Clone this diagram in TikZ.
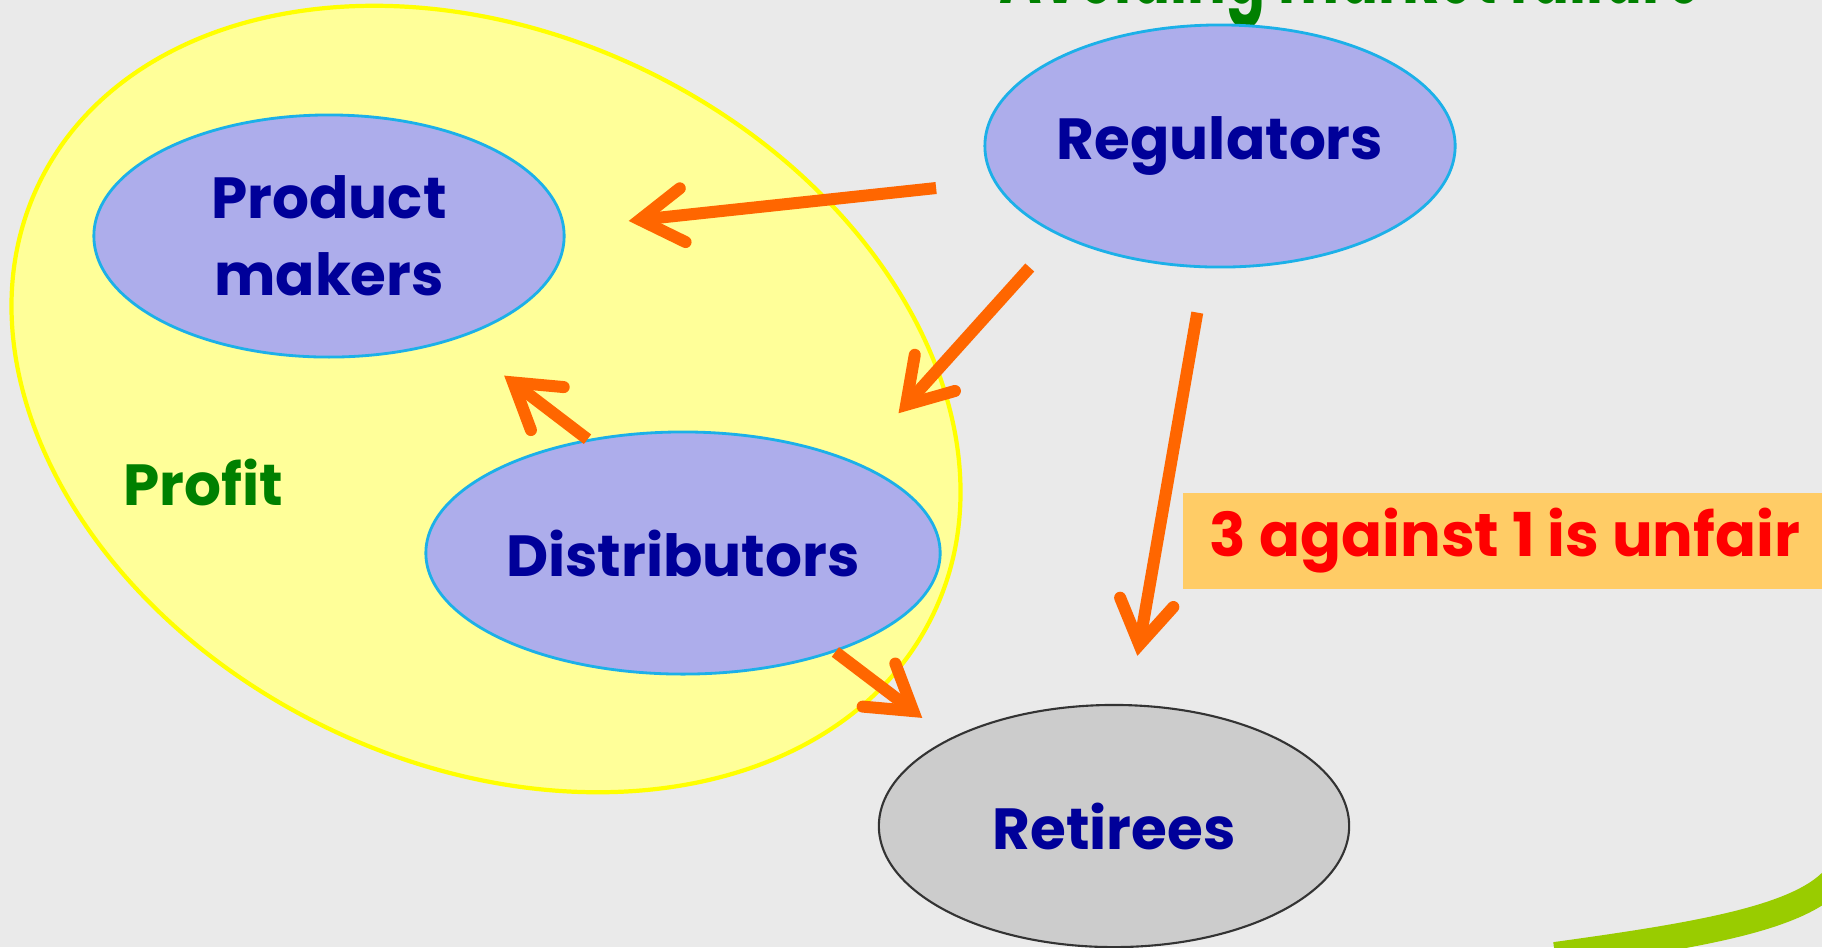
\documentclass[tikz,border=0pt]{standalone}
\usepackage{fontspec}
\setmainfont{Poppins}
\newfontfamily\narrowfont[FakeStretch=0.63]{Poppins}
\usetikzlibrary{shapes.geometric,arrows.meta}

\definecolor{bggray}{HTML}{EAEAEA}
\definecolor{zonefill}{HTML}{FFFF99}
\definecolor{zoneline}{HTML}{FFFF00}
\definecolor{lavender}{HTML}{ADADEB}
\definecolor{skyline}{HTML}{1CB0E8}
\definecolor{navytext}{HTML}{000099}
\definecolor{leafgreen}{HTML}{008000}
\definecolor{arrorange}{HTML}{FF6600}
\definecolor{notefill}{HTML}{FFCC66}
\definecolor{curvegreen}{HTML}{99CC00}

\tikzset{
  actor/.style={ellipse, draw=skyline, fill=lavender, line width=0.8pt,
    minimum width=4.7cm, minimum height=2.42cm, inner sep=0pt,
    text=navytext, align=center, font=\bfseries\fontsize{16.5}{22}\selectfont},
  arr/.style={draw=arrorange, line width=1.2mm,
    -{Straight Barb[length=4.3mm,width=5.4mm,line cap=round]}},
}

\begin{document}
\begin{tikzpicture}[x=0.01cm,y=-0.01cm]
    \useasboundingbox (0,0) rectangle (1822,947);
    \clip (0,0) rectangle (1822,947);
    \fill[bggray] (0,0) rectangle (1822,947);
    % Nodes
    \node[anchor=base, text=leafgreen, font=\narrowfont\bfseries\fontsize{26}{30}\selectfont] (title) at (1351,3) {Avoiding market failure};
    \node[ellipse, draw=zoneline, fill=zonefill, line width=1.2pt, minimum width=9.92cm, minimum height=7.3cm, rotate=-25.7] (zone) at (486,399) {};

    \node[actor] (pm) at (329,236) {Product\\makers};
    \node[actor] (reg) at (1220,146) {Regulators};
    \node[actor, minimum width=5.14cm] (dist) at (683,553) {Distributors};
    \node[actor, draw=black!80, fill=black!20, line width=0.6pt] (ret) at (1114,826) {Retirees};

    \node[text=leafgreen, font=\bfseries\fontsize{16.5}{22}\selectfont] (profit) at (203,482) {Profit};
    \node[fill=notefill, minimum width=6.44cm, minimum height=0.95cm, text=red, font=\bfseries\fontsize{17.2}{22}\selectfont] (note) at (1505,541) {3 against 1 is unfair};

    \draw[curvegreen, line width=2.6mm] (1555,955) .. controls (1700,935) and (1800,918) .. (1835,878);
    % Connection
    \draw[arr, shorten <=5.8mm, shorten >=6.4mm] (reg.189) -- (pm.2);
    \draw[arr, shorten <=4.3mm, shorten >=6.5mm] (reg.209) -- (dist.28);
    \draw[arr, shorten <=4.5mm, shorten >=4.9mm] (reg.263) -- (ret.83);
    \draw[arr, shorten >=6mm] (dist.130) -- (pm.321);
    \draw[arr, shorten >=3.4mm] (dist.327) -- (ret.152);
\end{tikzpicture}
\end{document}
